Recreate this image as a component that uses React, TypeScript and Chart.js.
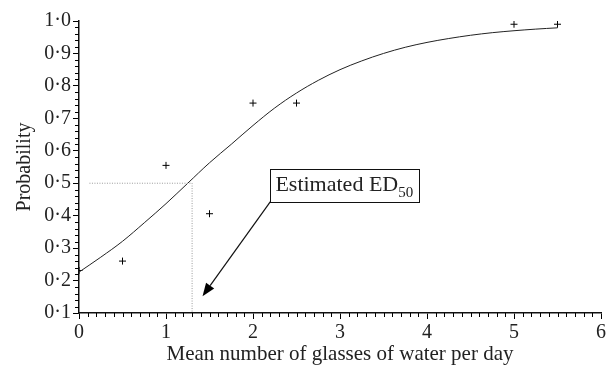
import React, { useEffect, useRef } from 'react';
import { Chart, registerables } from 'chart.js';

Chart.register(...registerables);

// Observed proportions (plus markers)
const observedX = [0, 0.5, 1, 1.5, 2, 2.5, 5, 5.5];
const observedP = [0.231, 0.26, 0.555, 0.406, 0.747, 0.747, 0.99, 0.99];

// Fitted curve
const curveX = [0, 0.25, 0.5, 0.75, 1, 1.25, 1.5, 1.75, 2, 2.25, 2.5, 2.75, 3, 3.25, 3.5, 3.75, 4, 4.25, 4.5, 4.75, 5, 5.25, 5.5];
const curveP = [0.226, 0.272, 0.321, 0.378, 0.437, 0.5, 0.563, 0.62, 0.678, 0.732, 0.778, 0.817, 0.85, 0.877, 0.9, 0.919, 0.934, 0.946, 0.956, 0.964, 0.97, 0.975, 0.979];

// ED50 guide lines
const ed50X = [0.12, 1.3, 1.3];
const ed50P = [0.5, 0.5, 0.1];

// Axis ranges / ticks
const xRange = [0, 6];
const yRange = [0.1, 1.0];
const xMajorStep = 1;
const xMinorStep = 0.1;
const yMajorStep = 0.1;
const yMinorStep = 0.02;

const xTitle = 'Mean number of glasses of water per day';
const yTitle = 'Probability';
const annotationText = 'Estimated ED';
const annotationSub = '50';
// annotation anchor (data units): box top-left and arrow tip
const annotationBox = { x: 2.2, y: 0.545 };
const annotationTip = { x: 1.42, y: 0.152 };

const FONT = '"Liberation Serif", "Times New Roman", serif';

const zeroPad = (scale: any) => {
  scale.paddingLeft = 0;
  scale.paddingRight = 0;
  scale.paddingTop = 0;
  scale.paddingBottom = 0;
};

const minorTicksPlugin = {
  id: 'minorTicks',
  afterDraw(chart: any) {
    const { ctx, scales, chartArea } = chart;
    const xs = scales.x;
    const ys = scales.y;
    ctx.save();
    ctx.strokeStyle = '#000';
    ctx.lineWidth = 1;
    ctx.beginPath();
    const nx = Math.round((xRange[1] - xRange[0]) / xMinorStep);
    const xEvery = Math.round(xMajorStep / xMinorStep);
    for (let i = 0; i <= nx; i++) {
      if (i % xEvery === 0) continue;
      const v = xRange[0] + i * xMinorStep;
      const px = Math.round(xs.getPixelForValue(v)) + 0.5;
      ctx.moveTo(px, chartArea.bottom);
      ctx.lineTo(px, chartArea.bottom + 4);
    }
    const ny = Math.round((yRange[1] - yRange[0]) / yMinorStep);
    const yEvery = Math.round(yMajorStep / yMinorStep);
    for (let i = 0; i <= ny; i++) {
      if (i % yEvery === 0) continue;
      const v = yRange[0] + i * yMinorStep;
      const py = Math.round(ys.getPixelForValue(v)) + 0.5;
      ctx.moveTo(chartArea.left, py);
      ctx.lineTo(chartArea.left - 4, py);
    }
    ctx.stroke();
    ctx.restore();
  },
};

const annotationPlugin = {
  id: 'edAnnotation',
  afterDraw(chart: any) {
    const { ctx, scales } = chart;
    const xs = scales.x;
    const ys = scales.y;
    const left = xs.getPixelForValue(annotationBox.x);
    const top = ys.getPixelForValue(annotationBox.y);
    ctx.save();
    ctx.font = `22px ${FONT}`;
    const w1 = ctx.measureText(annotationText).width;
    ctx.font = `15px ${FONT}`;
    const w2 = ctx.measureText(annotationSub).width;
    const padL = 5;
    const padR = 6;
    const boxW = padL + w1 + w2 + padR;
    const boxH = 33;
    ctx.fillStyle = '#fff';
    ctx.fillRect(left, top, boxW, boxH);
    ctx.strokeStyle = '#111';
    ctx.lineWidth = 1;
    ctx.strokeRect(Math.round(left) + 0.5, Math.round(top) + 0.5, Math.round(boxW), boxH);
    ctx.fillStyle = '#222';
    ctx.textBaseline = 'alphabetic';
    ctx.font = `22px ${FONT}`;
    ctx.fillText(annotationText, left + padL, top + 22);
    ctx.font = `15px ${FONT}`;
    ctx.fillText(annotationSub, left + padL + w1, top + 28);

    // arrow
    const sx = left;
    const sy = top + boxH;
    const tx = xs.getPixelForValue(annotationTip.x);
    const ty = ys.getPixelForValue(annotationTip.y);
    const ang = Math.atan2(ty - sy, tx - sx);
    const headLen = 13;
    const headW = 5;
    const bx = tx - headLen * Math.cos(ang);
    const by = ty - headLen * Math.sin(ang);
    ctx.strokeStyle = '#111';
    ctx.lineWidth = 1.2;
    ctx.beginPath();
    ctx.moveTo(sx, sy);
    ctx.lineTo(bx, by);
    ctx.stroke();
    ctx.fillStyle = '#000';
    ctx.beginPath();
    ctx.moveTo(tx, ty);
    ctx.lineTo(bx + headW * Math.sin(ang), by - headW * Math.cos(ang));
    ctx.lineTo(bx - headW * Math.sin(ang), by + headW * Math.cos(ang));
    ctx.closePath();
    ctx.fill();
    ctx.restore();
  },
};

export default function App() {
  const ref = useRef<HTMLCanvasElement | null>(null);

  useEffect(() => {
    if (!ref.current) return;
    const curve = curveX.map((x, i) => ({ x, y: curveP[i] }));
    const obs = observedX.map((x, i) => ({ x, y: observedP[i] }));
    const guide = ed50X.map((x, i) => ({ x, y: ed50P[i] }));

    const chart = new Chart(ref.current, {
      type: 'line',
      data: {
        datasets: [
          {
            label: 'guide',
            data: guide,
            borderColor: '#999',
            borderWidth: 1,
            borderDash: [1, 1.5],
            pointRadius: 0,
            tension: 0,
            fill: false,
          },
          {
            label: 'fit',
            data: curve,
            borderColor: '#222',
            borderWidth: 1,
            pointRadius: 0,
            tension: 0.35,
            fill: false,
          },
          {
            label: 'observed',
            data: obs,
            showLine: false,
            pointStyle: 'cross',
            pointRadius: 3.5,
            pointBorderColor: '#000',
            pointBorderWidth: 1,
            borderColor: '#000',
          },
        ],
      },
      options: {
        responsive: false,
        animation: false,
        devicePixelRatio: 1,
        layout: { padding: { left: 0, right: 1, top: 21, bottom: 0 } },
        plugins: { legend: { display: false }, tooltip: { enabled: false } },
        scales: {
          x: {
            type: 'linear',
            position: 'bottom',
            min: xRange[0],
            max: xRange[1],
            ticks: {
              stepSize: xMajorStep,
              color: '#222',
              font: { family: FONT, size: 20 },
              padding: 2,
              maxRotation: 0,
              autoSkip: false,
            },
            grid: { drawOnChartArea: false, drawTicks: true, tickLength: 6, color: '#000', tickWidth: 1 },
            border: { display: true, color: '#111', width: 1.5 },
            title: {
              display: true,
              text: xTitle,
              color: '#222',
              font: { family: FONT, size: 21 },
              padding: { top: 0, bottom: 2 },
            },
            afterFit: (s: any) => {
              s.height = 56;
              zeroPad(s);
            },
          },
          y: {
            type: 'linear',
            position: 'left',
            min: yRange[0],
            max: yRange[1],
            ticks: {
              stepSize: yMajorStep,
              color: '#222',
              font: { family: FONT, size: 20 },
              padding: 2,
              callback: (v: any) => Number(v).toFixed(1).replace('.', '\u00B7'),
            },
            grid: { drawOnChartArea: false, drawTicks: true, tickLength: 6, color: '#000', tickWidth: 1 },
            border: { display: true, color: '#111', width: 1.5 },
            title: {
              display: true,
              text: yTitle,
              color: '#222',
              font: { family: FONT, size: 20 },
              padding: { top: 13, bottom: 0 },
            },
            afterFit: (s: any) => {
              s.width = 79;
              zeroPad(s);
            },
          },
        },
      },
      plugins: [minorTicksPlugin, annotationPlugin],
    });
    return () => chart.destroy();
  }, []);

  return (
    <div style={{ position: 'absolute', left: 0, top: 0, width: 606, height: 369, background: '#fff' }}>
      <canvas ref={ref} width={606} height={369} style={{ display: 'block' }} />
    </div>
  );
}
